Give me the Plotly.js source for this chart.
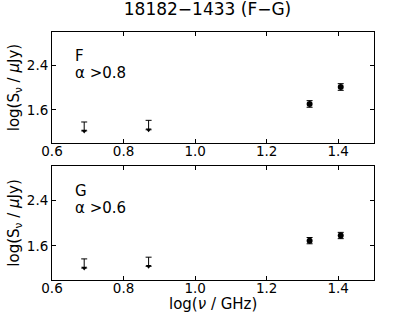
<!DOCTYPE html>
<html><head><meta charset="utf-8">
<script src="https://cdn.plot.ly/plotly-3.0.1.min.js"></script>
<style>body{margin:0;background:#fff}#c{width:415px;height:312px}</style>
</head><body><div id="c"></div>
<script>
// Panel F
const limX = [0.69, 0.87];
const limF = [1.22, 1.24];      // upper-limit arrow positions
const limFerr = [0.16, 0.17];   // line length up to cap
const detX = [1.32, 1.407];
const detF = [1.705, 2.01];
const detFerr = [0.06, 0.06];
// Panel G
const limG = [1.21, 1.24];
const limGerr = [0.16, 0.16];
const detG = [1.69, 1.78];
const detGerr = [0.055, 0.055];
const labels = [["F", "α >0.8"], ["G", "α >0.6"]];
const title = "18182−1433 (F−G)";

const F = "DejaVu Sans, sans-serif";
function lim(y, e, ya, xa) {
  return {x: limX, y: y, xaxis: xa, yaxis: ya, mode: 'markers', type: 'scatter',
    marker: {symbol: 'triangle-down', size: 5, color: '#000'},
    error_y: {type: 'data', symmetric: false, array: e, arrayminus: [0, 0], color: '#000', thickness: 1, width: 3},
    showlegend: false, hoverinfo: 'skip'};
}
function det(y, e, ya, xa) {
  return {x: detX, y: y, xaxis: xa, yaxis: ya, mode: 'markers', type: 'scatter',
    marker: {symbol: 'circle', size: 6, color: '#000', line: {width: 0}},
    error_y: {type: 'data', array: e, color: '#000', thickness: 1, width: 3},
    showlegend: false, hoverinfo: 'skip'};
}
const data = [lim(limF, limFerr, 'y', 'x'), det(detF, detFerr, 'y', 'x'),
              lim(limG, limGerr, 'y2', 'x2'), det(detG, detGerr, 'y2', 'x2')];
const xax = {range: [0.6, 1.5], tickvals: [0.6, 0.8, 1.0, 1.2, 1.4], ticktext: ['0.6','0.8','1.0','1.2','1.4'],
  ticks: 'inside', ticklen: 4, tickcolor: '#000', mirror: 'allticks', showline: true, linecolor: '#000', linewidth: 1,
  showgrid: false, zeroline: false, ticklabelstandoff: -4, tickfont: {family: F, size: 13.5, color: '#000'}};
const yax = {range: [1.0, 3.0], tickvals: [1.6, 2.4], ticktext: ['1.6', '2.4'],
  ticks: 'inside', ticklen: 4, tickcolor: '#000', mirror: 'allticks', showline: true, linecolor: '#000', linewidth: 1,
  showgrid: false, zeroline: false, tickfont: {family: F, size: 13.5, color: '#000'},
  title: {text: 'log(S<sub>ν</sub> / <i>μ</i>Jy)', font: {family: F, size: 15, color: '#000'}, standoff: 3}};
const layout = {
  width: 415, height: 312, paper_bgcolor: '#fff', plot_bgcolor: '#fff',
  margin: {l: 52, r: 41, t: 32, b: 32},
  font: {family: F, color: '#000'},
  title: {text: title, font: {family: F, size: 17, color: '#000'}, x: 0.5, xanchor: 'center', y: 0.99, yanchor: 'top'},
  xaxis: Object.assign({}, xax, {domain: [0, 1], anchor: 'y'}),
  yaxis: Object.assign({}, yax, {domain: [0.552, 1], anchor: 'x'}),
  xaxis2: Object.assign({}, xax, {domain: [0, 1], anchor: 'y2'}),
  yaxis2: Object.assign({}, yax, {domain: [0, 0.46], anchor: 'x2'}),
  annotations: [
    {xref: 'x', yref: 'y', x: 0.66, y: 2.56, text: labels[0][0], showarrow: false, xanchor: 'left', font: {family: F, size: 15}},
    {xref: 'x', yref: 'y', x: 0.66, y: 2.27, text: labels[0][1], showarrow: false, xanchor: 'left', font: {family: F, size: 15}},
    {xref: 'x2', yref: 'y2', x: 0.66, y: 2.56, text: labels[1][0], showarrow: false, xanchor: 'left', font: {family: F, size: 15}},
    {xref: 'x2', yref: 'y2', x: 0.66, y: 2.27, text: labels[1][1], showarrow: false, xanchor: 'left', font: {family: F, size: 15}},
    {xref: 'paper', yref: 'paper', x: 0.5, y: 0, yshift: -24, xanchor: 'center', yanchor: 'middle', showarrow: false,
     text: 'log(<i>ν</i> / GHz)', font: {family: F, size: 15, color: '#000'}}
  ]
};
Plotly.newPlot('c', data, layout, {staticPlot: true, displayModeBar: false});
</script></body></html>
